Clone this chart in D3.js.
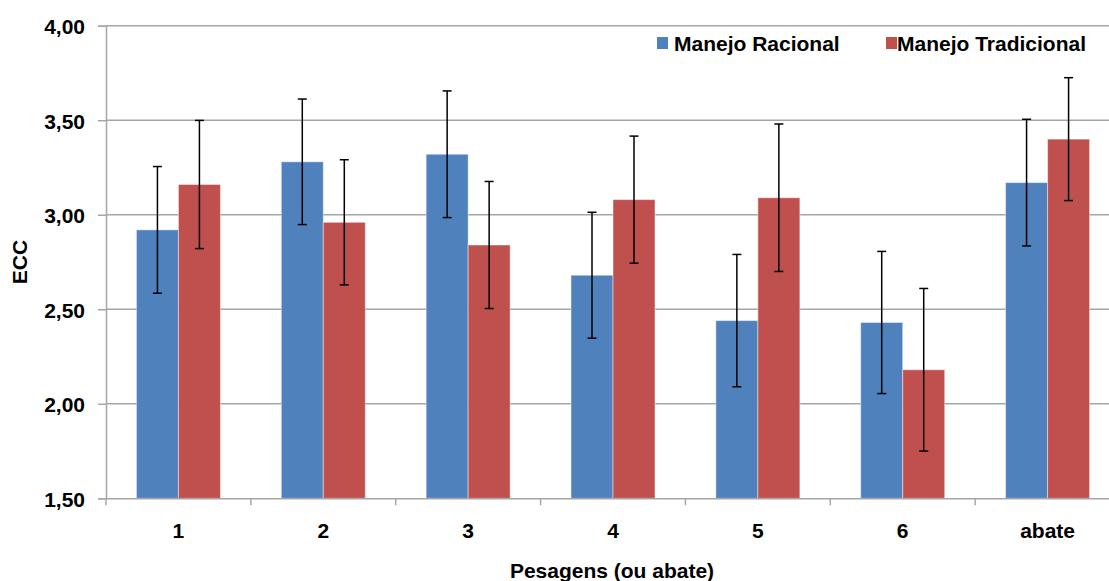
<!DOCTYPE html>
<html>
<head>
<meta charset="utf-8">
<script src="https://cdn.jsdelivr.net/npm/d3@7"></script>
<style>
  html, body { margin: 0; padding: 0; background: #fff; }
  svg { display: block; font-family: "Liberation Sans", Arial, sans-serif; }
</style>
</head>
<body>
<svg id="chart" width="1109" height="581"></svg>
<script>
// ---- data ----
const categories = ["1", "2", "3", "4", "5", "6", "abate"];
const seriesNames = ["Manejo Racional", "Manejo Tradicional"];
const racional = [2.92, 3.28, 3.32, 2.68, 2.44, 2.43, 3.17];
const racionalErr = [0.335, 0.332, 0.335, 0.333, 0.35, 0.376, 0.335];
const tradicional = [3.16, 2.96, 2.84, 3.08, 3.09, 2.18, 3.40];
const tradicionalErr = [0.339, 0.331, 0.336, 0.336, 0.39, 0.43, 0.325];
const yTicks = [1.5, 2.0, 2.5, 3.0, 3.5, 4.0];
const yDomain = [1.5, 4.0];
const colors = ["#4F81BD", "#C0504D"];

const rows = categories.map((c, i) => ({
  cat: c,
  vals: [
    { s: seriesNames[0], v: racional[i], e: racionalErr[i] },
    { s: seriesNames[1], v: tradicional[i], e: tradicionalErr[i] }
  ]
}));

// ---- layout ----
const svg = d3.select("#chart");
const pLeft = 106, pRight = 1120, pTop = 25.7, pBottom = 498.3;
const fontSize = 21;

const x = d3.scaleBand().domain(categories).range([pLeft, pRight]).padding(0);
const bw = x.bandwidth();
const groupW = 84;
const xs = d3.scaleBand().domain(seriesNames)
  .range([(bw - groupW) / 2, (bw + groupW) / 2]).padding(0);
const y = d3.scaleLinear().domain(yDomain).range([pBottom, pTop]);
const color = d3.scaleOrdinal().domain(seriesNames).range(colors);

// gridlines
svg.append("g")
  .selectAll("line").data(yTicks.filter(t => t > yDomain[0])).join("line")
  .attr("x1", pLeft).attr("x2", pRight)
  .attr("y1", d => y(d)).attr("y2", d => y(d))
  .attr("stroke", "#A6A6A6").attr("stroke-width", 1.5);

// y axis
const yAxis = d3.axisLeft(y).tickValues(yTicks).tickSize(8).tickPadding(13)
  .tickFormat(d => d3.format(".2f")(d).replace(".", ","));
const gy = svg.append("g").attr("transform", `translate(${pLeft},0)`).call(yAxis);
gy.select(".domain").attr("stroke", "#A6A6A6").attr("stroke-width", 1.5);
gy.selectAll(".tick line").attr("stroke", "#A6A6A6").attr("stroke-width", 1.5);
gy.selectAll(".tick text")
  .attr("font-size", fontSize).attr("font-weight", "bold").attr("fill", "#000")
  .attr("dy", "0.38em")
  .attr("font-family", "Liberation Sans, Arial, sans-serif");

// bars
const groups = svg.append("g").selectAll("g").data(rows).join("g")
  .attr("transform", d => `translate(${x(d.cat)},0)`);

groups.selectAll("rect").data(d => d.vals).join("rect")
  .attr("x", d => xs(d.s))
  .attr("width", xs.bandwidth())
  .attr("y", d => y(d.v))
  .attr("height", d => y(yDomain[0]) - y(d.v))
  .attr("fill", d => color(d.s))
  .attr("stroke", "rgba(255,255,255,0.45)")
  .attr("stroke-width", 1);

// error bars
const capW = 9;
const eb = groups.selectAll("g.err").data(d => d.vals).join("g").attr("class", "err")
  .attr("transform", d => `translate(${xs(d.s) + xs.bandwidth() / 2},0)`);
eb.append("line")
  .attr("x1", 0).attr("x2", 0)
  .attr("y1", d => y(d.v + d.e)).attr("y2", d => y(d.v - d.e))
  .attr("stroke", "#000").attr("stroke-width", 1.5);
eb.append("line")
  .attr("x1", -capW / 2).attr("x2", capW / 2)
  .attr("y1", d => y(d.v + d.e)).attr("y2", d => y(d.v + d.e))
  .attr("stroke", "#000").attr("stroke-width", 1.5);
eb.append("line")
  .attr("x1", -capW / 2).attr("x2", capW / 2)
  .attr("y1", d => y(d.v - d.e)).attr("y2", d => y(d.v - d.e))
  .attr("stroke", "#000").attr("stroke-width", 1.5);

// x axis
const xAxis = d3.axisBottom(x).tickSize(0).tickPadding(25);
const gx = svg.append("g").attr("transform", `translate(0,${pBottom})`).call(xAxis);
gx.select(".domain").attr("stroke", "#A6A6A6").attr("stroke-width", 1.5);
gx.selectAll(".tick text")
  .attr("font-size", fontSize).attr("font-weight", "bold").attr("fill", "#000")
  .attr("font-family", "Liberation Sans, Arial, sans-serif");
// category boundary ticks
svg.append("g").selectAll("line")
  .data(categories.map(c => x(c)).concat([pRight]))
  .join("line")
  .attr("x1", d => d).attr("x2", d => d)
  .attr("y1", pBottom).attr("y2", pBottom + 7)
  .attr("stroke", "#A6A6A6").attr("stroke-width", 1.5);

// axis titles
svg.append("text")
  .attr("x", 612).attr("y", 578)
  .attr("text-anchor", "middle")
  .attr("font-size", fontSize).attr("font-weight", "bold")
  .text("Pesagens (ou abate)");
svg.append("text")
  .attr("transform", "translate(27,262) rotate(-90)")
  .attr("text-anchor", "middle")
  .attr("font-size", fontSize).attr("font-weight", "bold")
  .text("ECC");

// legend
const legendItems = [
  { name: seriesNames[0], sx: 657, tx: 674 },
  { name: seriesNames[1], sx: 886, tx: 897 }
];
const lg = svg.append("g").selectAll("g").data(legendItems).join("g");
lg.append("rect")
  .attr("x", d => d.sx).attr("y", 37).attr("width", 11).attr("height", 12)
  .attr("fill", d => color(d.name));
lg.append("text")
  .attr("x", d => d.tx).attr("y", 50.5)
  .attr("font-size", fontSize).attr("font-weight", "bold")
  .text(d => d.name);
</script>
</body>
</html>
